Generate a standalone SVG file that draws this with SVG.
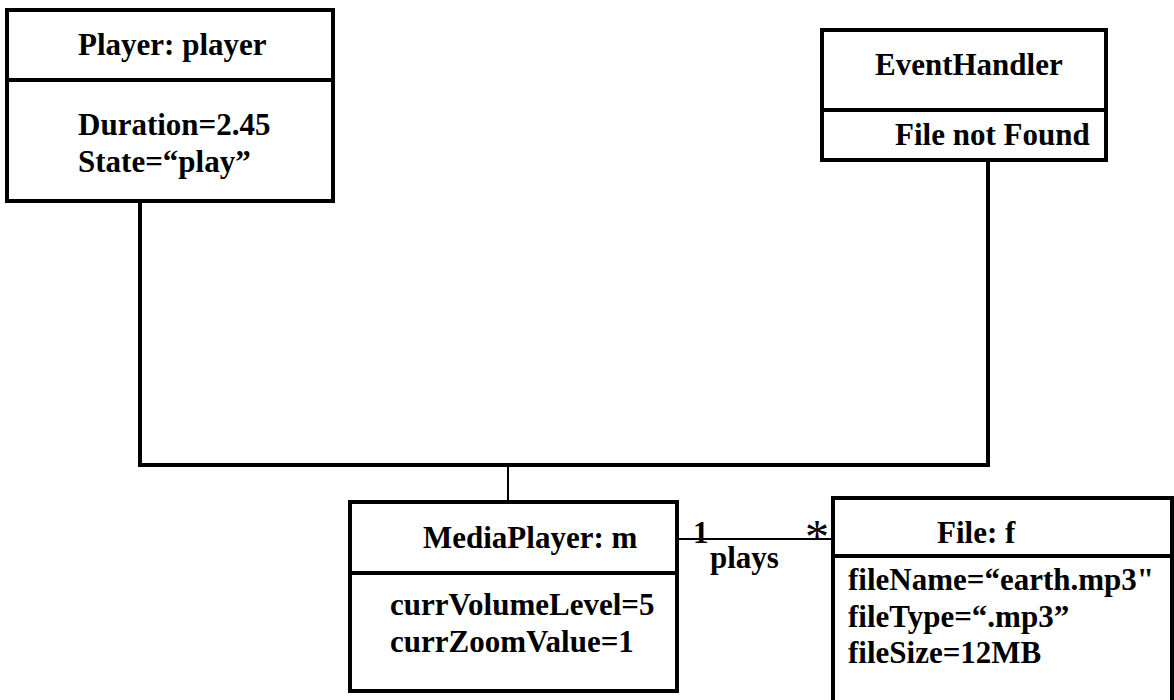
<svg xmlns="http://www.w3.org/2000/svg" width="1174" height="700" viewBox="0 0 1174 700">
  <style>
    .box { fill: #ffffff; stroke: #000000; stroke-width: 4; }
    .div { stroke: #000000; stroke-width: 4; }
    .wire { fill: none; stroke: #000000; stroke-width: 4; }
    .thin { fill: none; stroke: #000000; stroke-width: 2; }
    text { font-family: "Liberation Serif", "Times New Roman", serif; font-weight: bold; font-size: 31px; fill: #000000; }
    .star { font-weight: normal; font-size: 48px; }
  </style>
  <rect width="1174" height="700" fill="#ffffff"/>

  <!-- connectors -->
  <g id="connectors">
    <polyline class="wire" points="140,201 140,465 988,465 988,160"/>
    <line class="thin" x1="508" y1="465" x2="508" y2="502"/>
    <line class="thin" x1="677" y1="539" x2="833" y2="539"/>
    <text x="693" y="543">1</text>
    <text class="star" x="805" y="553">*</text>
    <text x="710" y="568">plays</text>
  </g>

  <!-- Player: player -->
  <g id="player">
    <rect class="box" x="7" y="10" width="326" height="191"/>
    <line class="div" x1="7" y1="80" x2="333" y2="80"/>
    <text x="78" y="55">Player: player</text>
    <text x="78" y="135">Duration=2.45</text>
    <text x="78" y="172">State=“play”</text>
  </g>

  <!-- EventHandler -->
  <g id="eventhandler">
    <rect class="box" x="822" y="30" width="284" height="130"/>
    <line class="div" x1="822" y1="110" x2="1106" y2="110"/>
    <text x="875" y="75">EventHandler</text>
    <text x="895" y="145">File not Found</text>
  </g>

  <!-- MediaPlayer: m -->
  <g id="mediaplayer">
    <rect class="box" x="350" y="502" width="327" height="189"/>
    <line class="div" x1="350" y1="573" x2="677" y2="573"/>
    <text x="423" y="548">MediaPlayer: m</text>
    <text x="390" y="615">currVolumeLevel=5</text>
    <text x="390" y="652">currZoomValue=1</text>
  </g>

  <!-- File: f -->
  <g id="file">
    <rect class="box" x="833" y="498" width="339" height="230"/>
    <line class="div" x1="833" y1="556" x2="1172" y2="556"/>
    <text x="937" y="543">File: f</text>
    <text x="848" y="590">fileName=“earth.mp3"</text>
    <text x="848" y="627">fileType=“.mp3”</text>
    <text x="848" y="663">fileSize=12MB</text>
  </g>
</svg>
